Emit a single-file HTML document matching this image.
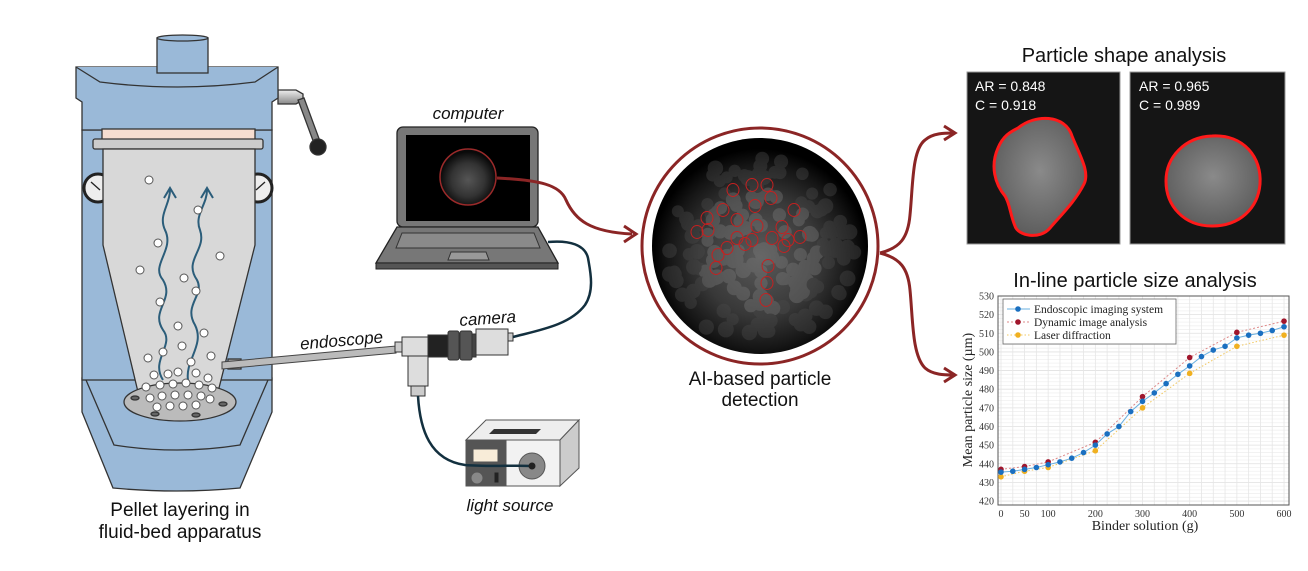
<!DOCTYPE html>
<html><head><meta charset="utf-8"><style>
html,body{margin:0;padding:0;background:#fff;}
svg{display:block;}
</style></head><body>
<svg id="s" width="1308" height="571" viewBox="0 0 1308 571" xmlns="http://www.w3.org/2000/svg" font-family="Liberation Sans, sans-serif">
<defs>
<radialGradient id="gscope" cx="0.5" cy="0.55" r="0.5">
<stop offset="0" stop-color="#5a5a5a"/><stop offset="0.55" stop-color="#383838"/><stop offset="0.85" stop-color="#151515"/><stop offset="1" stop-color="#000"/>
</radialGradient>
<radialGradient id="gsmall" cx="0.5" cy="0.55" r="0.5">
<stop offset="0" stop-color="#555"/><stop offset="0.6" stop-color="#333"/><stop offset="1" stop-color="#0a0a0a"/>
</radialGradient>
<radialGradient id="gblob" cx="0.5" cy="0.45" r="0.6">
<stop offset="0" stop-color="#8a8a8a"/><stop offset="1" stop-color="#5a5a5a"/>
</radialGradient>
<linearGradient id="gpipe" x1="0" y1="0" x2="0" y2="1"><stop offset="0" stop-color="#eee"/><stop offset="1" stop-color="#888"/></linearGradient>
</defs>

<g stroke="#333" stroke-width="1.3">
<path d="M82,378 L272,378 L272,412 L240,488 Q177,494 113,488 L82,412 Z" fill="#9ab9d8"/>
<path d="M86,380 L114,445 Q177,455 240,445 L268,380" fill="none" stroke="#333"/>
<rect x="82" y="130" width="190" height="250" fill="#9ab9d8"/>
<circle cx="98" cy="188" r="14" fill="#eee" stroke="#222" stroke-width="3"/>
<line x1="91" y1="182" x2="100" y2="190" stroke="#222"/>
<circle cx="258" cy="188" r="14" fill="#eee" stroke="#222" stroke-width="3"/>
<line x1="265" y1="182" x2="256" y2="190" stroke="#222"/>
<path d="M278,90 L296,90 L303,94 L303,100 L296,104 L278,104 Z" fill="url(#gpipe)"/>
<path d="M298,100 L315,146 L321,144 L304,98 Z" fill="#888"/>
<circle cx="318" cy="147" r="8" fill="#222"/>
<path d="M76,67 L278,67 L278,98 L272,102 L272,130 L82,130 L82,102 L76,98 Z" fill="#9ab9d8"/>
<path d="M76,67 L100,82 Q178,92 255,82 L278,67" fill="#9ab9d8"/>
<rect x="157" y="38" width="51" height="35" fill="#9ab9d8"/>
<ellipse cx="182.5" cy="38" rx="25.5" ry="3" fill="#9ab9d8"/>
<rect x="102" y="129" width="153" height="11" fill="#f6ddd0"/>
<rect x="93" y="139" width="170" height="10" rx="2" fill="#ccc"/>
<path d="M103,149 L255,149 L255,245 L218,392 L138,392 L103,245 Z" fill="#d8d8d8"/>
<rect x="228" y="359" width="13" height="10" fill="#aaa"/>
<ellipse cx="180" cy="402" rx="56" ry="19" fill="#bbb"/>
<ellipse cx="135" cy="398" rx="4" ry="2" fill="#666"/>
<ellipse cx="155" cy="414" rx="4" ry="2" fill="#666"/>
<ellipse cx="196" cy="415" rx="4" ry="2" fill="#666"/>
<ellipse cx="223" cy="404" rx="4" ry="2" fill="#666"/>
</g>
<g fill="none" stroke="#2b5d7a" stroke-width="2">
<path d="M163,380 C150,360 175,345 163,330 C150,310 175,300 163,280 C150,265 175,250 165,230 C158,215 170,205 170,190"/>
<path d="M164,198 L170,188 L176,198"/>
<path d="M188,380 C185,360 205,345 195,325 C183,305 205,295 197,280 C183,260 207,250 200,230 C194,215 207,205 207,190"/>
<path d="M201,198 L207,188 L213,198"/>
</g>
<g fill="#fff" stroke="#555" stroke-width="1">
<circle cx="149" cy="180" r="4"/><circle cx="198" cy="210" r="4"/><circle cx="158" cy="243" r="4"/><circle cx="220" cy="256" r="4"/>
<circle cx="140" cy="270" r="4"/><circle cx="184" cy="278" r="4"/><circle cx="196" cy="291" r="4"/><circle cx="160" cy="302" r="4"/>
<circle cx="178" cy="326" r="4"/><circle cx="204" cy="333" r="4"/><circle cx="182" cy="346" r="4"/><circle cx="148" cy="358" r="4"/>
<circle cx="163" cy="352" r="4"/><circle cx="191" cy="362" r="4"/><circle cx="211" cy="356" r="4"/>
<circle cx="154" cy="375" r="4"/><circle cx="168" cy="374" r="4"/><circle cx="178" cy="372" r="4"/><circle cx="196" cy="373" r="4"/><circle cx="208" cy="378" r="4"/>
<circle cx="146" cy="387" r="4"/><circle cx="160" cy="385" r="4"/><circle cx="173" cy="384" r="4"/><circle cx="186" cy="383" r="4"/><circle cx="199" cy="385" r="4"/><circle cx="212" cy="388" r="4"/>
<circle cx="150" cy="398" r="4"/><circle cx="162" cy="396" r="4"/><circle cx="175" cy="395" r="4"/><circle cx="188" cy="395" r="4"/><circle cx="201" cy="396" r="4"/><circle cx="210" cy="399" r="4"/>
<circle cx="157" cy="407" r="4"/><circle cx="170" cy="406" r="4"/><circle cx="183" cy="406" r="4"/><circle cx="196" cy="405" r="4"/>
</g>
<text x="180" y="516" font-size="19" text-anchor="middle" fill="#111">Pellet layering in</text>
<text x="180" y="538" font-size="19" text-anchor="middle" fill="#111">fluid-bed apparatus</text>

<path d="M222,362 L396,346 L396,353 L222,369 Z" fill="#bbb" stroke="#444" stroke-width="1"/>
<text x="342" y="346" font-size="17" font-style="italic" text-anchor="middle" fill="#111" transform="rotate(-5 342 346)">endoscope</text>
<text x="488" y="324" font-size="17" font-style="italic" text-anchor="middle" fill="#111" transform="rotate(-4 488 324)">camera</text>
<g stroke="#333" stroke-width="1">
<rect x="395" y="342" width="8" height="10" fill="#ccc"/>
<rect x="402" y="337" width="26" height="19" fill="#ddd"/>
<rect x="428" y="335" width="22" height="22" fill="#222"/>
<rect x="448" y="331" width="11" height="29" rx="2" fill="#555"/>
<rect x="460" y="331" width="12" height="29" rx="2" fill="#555"/>
<rect x="472" y="334" width="4" height="23" fill="#444"/>
<rect x="476" y="329" width="32" height="26" fill="#ddd"/>
<rect x="508" y="333" width="5" height="8" fill="#ccc"/>
<rect x="408" y="356" width="20" height="30" fill="#ddd"/>
<rect x="411" y="386" width="14" height="10" fill="#ccc"/>
</g>
<g fill="none" stroke="#13303f" stroke-width="2.5">
<path d="M513,337 C540,330 570,325 585,305 C595,290 590,270 588,258 C585,245 570,240 548,242"/>
</g>

<text x="468" y="119" font-size="17" font-style="italic" text-anchor="middle" fill="#111">computer</text>
<rect x="397" y="127" width="141" height="100" rx="6" fill="#777" stroke="#222" stroke-width="1.3"/>
<rect x="406" y="135" width="124" height="86" fill="#000"/>
<circle cx="468" cy="177" r="28" fill="url(#gsmall)" stroke="#9b2a2a" stroke-width="1.5"/>
<path d="M397,227 L538,227 L558,263 L376,263 Z" fill="#777" stroke="#222" stroke-width="1.3"/>
<path d="M402,233 L534,233 L540,248 L396,248 Z" fill="#8a8a8a" stroke="#333" stroke-width="1"/>
<path d="M451,252 L486,252 L489,260 L448,260 Z" fill="#999" stroke="#333" stroke-width="1"/>
<rect x="376" y="263" width="182" height="6" fill="#555" stroke="#222" stroke-width="1"/>
<path d="M497,178 C540,180 560,185 566,200 C575,220 590,232 632,234" fill="none" stroke="#8b2525" stroke-width="3"/>
<path d="M624,226 L636,234 L624,242" fill="none" stroke="#8b2525" stroke-width="3"/>

<g stroke="#555" stroke-width="1">
<path d="M466,440 L486,420 L579,420 L560,440 Z" fill="#eee"/>
<path d="M560,440 L579,420 L579,468 L560,486 Z" fill="#ccc"/>
<rect x="466" y="440" width="40" height="46" fill="#555"/>
<rect x="506" y="440" width="54" height="46" fill="#f2f2f2"/>
<rect x="473" y="449" width="25" height="13" fill="#f8ecd8"/>
<circle cx="477" cy="478" r="6" fill="#888"/>
<rect x="494" y="472" width="5" height="11" fill="#222"/>
<circle cx="532" cy="466" r="13" fill="#888"/>
</g>
<path d="M489,434 L536,434 L541,429 L494,429 Z" fill="#333"/>
<path d="M418,396 C420,430 430,460 465,465 C490,467 515,465 531,466" fill="none" stroke="#13303f" stroke-width="2.5"/>
<circle cx="532" cy="466" r="3.5" fill="#222"/>
<text x="510" y="511" font-size="17" font-style="italic" text-anchor="middle" fill="#111">light source</text>

<circle cx="760" cy="246" r="118" fill="#fff" stroke="#8b2525" stroke-width="3"/>
<circle cx="760" cy="246" r="108" fill="url(#gscope)"/>
<g id="blobs" opacity="0.4"></g>
<g id="reds" fill="none" stroke="#c62020" stroke-width="1"></g>
<text x="760" y="385" font-size="19" text-anchor="middle" fill="#111">AI-based particle</text>
<text x="760" y="406" font-size="19" text-anchor="middle" fill="#111">detection</text>

<g fill="none" stroke="#8b2525" stroke-width="3">
<path d="M880,253 C900,248 908,238 910,215 C913,185 912,150 925,140 C933,133 945,133 953,133"/>
<path d="M944,126 L955,133 L944,140"/>
<path d="M880,253 C900,258 908,268 910,290 C913,320 912,355 925,368 C933,375 945,375 953,375"/>
<path d="M944,368 L955,375 L944,382"/>
</g>

<text x="1124" y="62" font-size="20" text-anchor="middle" fill="#111">Particle shape analysis</text>
<rect x="967" y="72" width="153" height="172" fill="#151515" stroke="#999" stroke-width="1"/>
<rect x="1130" y="72" width="155" height="172" fill="#151515" stroke="#999" stroke-width="1"/>
<text x="975" y="91" font-size="14" fill="#fff">AR = 0.848</text>
<text x="975" y="110" font-size="14" fill="#fff">C = 0.918</text>
<text x="1139" y="91" font-size="14" fill="#fff">AR = 0.965</text>
<text x="1139" y="110" font-size="14" fill="#fff">C = 0.989</text>
<path d="M1018,128 C1035,114 1065,114 1072,136 C1080,156 1090,172 1084,184 C1075,202 1060,216 1050,228 C1040,240 1018,236 1015,226 C1010,214 1010,204 1005,196 C995,184 990,166 998,148 C1003,136 1010,132 1018,128 Z" fill="url(#gblob)" stroke="#ff1a1a" stroke-width="3"/>
<path d="M1212,136 C1244,134 1262,158 1260,184 C1258,208 1240,226 1212,226 C1184,226 1166,206 1166,181 C1166,157 1185,137 1212,136 Z" fill="url(#gblob)" stroke="#ff1a1a" stroke-width="3"/>

<text x="1135" y="287" font-size="20" text-anchor="middle" fill="#111">In-line particle size analysis</text>
<g id="chart" font-family="Liberation Serif, serif"></g>
</svg>
<script>
(function(){
var NS="http://www.w3.org/2000/svg";
function el(p,n,a,t){var e=document.createElementNS(NS,n);for(var k in a)e.setAttribute(k,a[k]);if(t!=null)e.textContent=t;p.appendChild(e);return e;}
var b=document.getElementById("blobs");
var seed=7;function rnd(){seed=(seed*9301+49297)%233280;return seed/233280;}
for(var i=0;i<170;i++){var a=rnd()*6.283,r=Math.sqrt(rnd())*95;el(b,"circle",{cx:760+r*Math.cos(a),cy:250+r*Math.sin(a),r:6+rnd()*2,fill:(r<60?"#7a7a7a":"#4a4a4a")});}
var reds=[[733,190],[752,185],[767,185],[771,198],[723,210],[755,206],[794,210],[707,218],[737,220],[757,226],[782,227],[697,232],[708,230],[737,238],[752,240],[772,238],[788,240],[800,237],[784,246],[727,248],[745,244],[718,255],[716,268],[768,266],[767,283],[766,300]];
var R=document.getElementById("reds");
reds.forEach(function(p){el(R,"ellipse",{cx:p[0],cy:p[1],rx:6,ry:6.5});});
var g=document.getElementById("chart");
var X=function(v){return 1001+v*0.4717;},Y=function(v){return 296+(530-v)*1.864;};
var L=998,Rr=1289,T=296,B=505;
for(var v=420;v<=530;v+=2){el(g,"line",{x1:L,x2:Rr,y1:Y(v),y2:Y(v),stroke:v%10?"#f0f0f0":"#e0e0e0","stroke-width":0.8});}
for(var x=0;x<=600;x+=25){el(g,"line",{x1:X(x),x2:X(x),y1:T,y2:B,stroke:"#e6e6e6","stroke-width":0.8});}
el(g,"rect",{x:L,y:T,width:Rr-L,height:B-T,fill:"none",stroke:"#555","stroke-width":1});
for(var v=420;v<=530;v+=10){el(g,"text",{x:L-4,y:Y(v)+3.5,"font-size":10,"text-anchor":"end",fill:"#333"},v);}
[0,50,100,200,300,400,500,600].forEach(function(x){el(g,"text",{x:X(x),y:B+12,"font-size":10,"text-anchor":"middle",fill:"#333"},x);});
el(g,"text",{x:1145,y:530,"font-size":14,"text-anchor":"middle",fill:"#222"},"Binder solution (g)");
el(g,"text",{x:972,y:400,"font-size":14,"text-anchor":"middle",fill:"#222",transform:"rotate(-90 972 400)"},"Mean particle size (\u00b5m)");
function series(d,col,lc,dash){
var pts=d.map(function(p){return X(p[0])+","+Y(p[1]);}).join(" ");
el(g,"polyline",{points:pts,fill:"none",stroke:lc,"stroke-width":1,"stroke-dasharray":dash||""});
d.forEach(function(p){el(g,"circle",{cx:X(p[0]),cy:Y(p[1]),r:2.8,fill:col});});
}
var en=[[0,435.5],[25,436],[50,437],[75,438],[100,439.5],[125,441],[150,443],[175,446],[200,450],[225,456],[250,460],[275,468],[300,473.5],[325,478],[350,483],[375,488],[400,492.5],[425,497.5],[450,501],[475,503],[500,507.5],[525,509],[550,510],[575,511.5],[600,513.5]];
var dy=[[0,437],[50,438.5],[100,441],[200,451.5],[300,476],[400,497],[500,510.5],[600,516.5]];
var la=[[0,433],[50,436],[100,438],[200,447],[300,470],[400,488.5],[500,503],[600,509]];
series(dy,"#a0162c","#d88","2,2");
series(la,"#f0b020","#f2c860","1.5,2");
series(en,"#1a6fc0","#6ab0e0","");
el(g,"rect",{x:1003,y:299,width:173,height:45,fill:"#fff",stroke:"#666","stroke-width":0.8});
var ly=[309,322,335],lab=["Endoscopic imaging system","Dynamic image analysis","Laser diffraction"],cols=["#1a6fc0","#a0162c","#f0b020"],lcs=["#6ab0e0","#d88","#f2c860"],ds=["","2,2","1.5,2"];
for(var i=0;i<3;i++){el(g,"line",{x1:1007,x2:1030,y1:ly[i],y2:ly[i],stroke:lcs[i],"stroke-dasharray":ds[i]});el(g,"circle",{cx:1018,cy:ly[i],r:2.8,fill:cols[i]});el(g,"text",{x:1034,y:ly[i]+4,"font-size":11.5,fill:"#222"},lab[i]);}
})();
</script>
</body></html>
